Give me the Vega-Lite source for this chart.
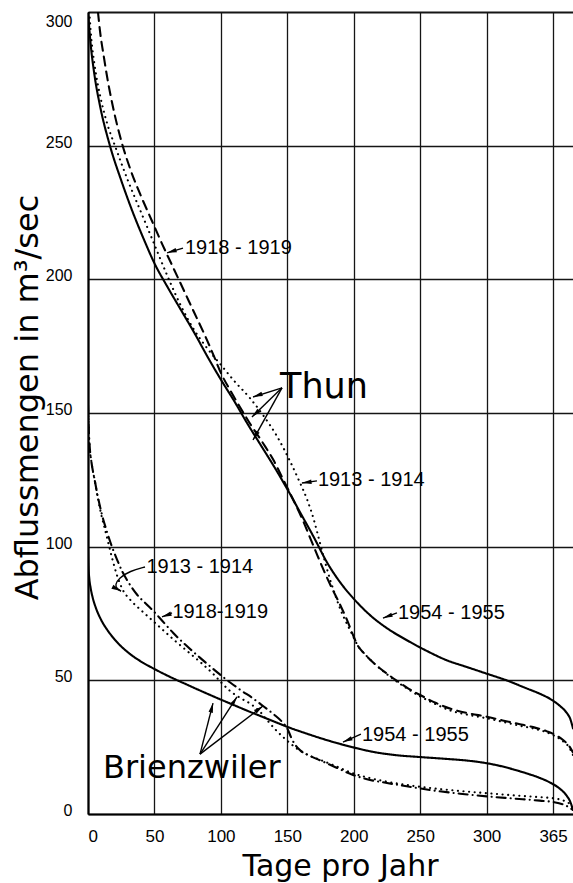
{
  "$schema": "https://vega.github.io/schema/vega-lite/v6.json",
  "width": 485,
  "height": 802,
  "autosize": {"type": "none"},
  "padding": {"left": 88, "top": 12, "right": 0, "bottom": 69},
  "background": "white",
  "config": {"view": {"stroke": null}},
  "datasets": {
    "curves": [
      {"s":"Thun 1954-1955","day":0,"q":300},{"s":"Thun 1954-1955","day":2,"q":288},{"s":"Thun 1954-1955","day":5,"q":276},{"s":"Thun 1954-1955","day":9,"q":265},{"s":"Thun 1954-1955","day":16.5,"q":250},{"s":"Thun 1954-1955","day":25,"q":237},{"s":"Thun 1954-1955","day":33,"q":226},{"s":"Thun 1954-1955","day":42,"q":215},{"s":"Thun 1954-1955","day":50,"q":206},{"s":"Thun 1954-1955","day":60,"q":197},{"s":"Thun 1954-1955","day":70,"q":188.5},{"s":"Thun 1954-1955","day":80,"q":180},{"s":"Thun 1954-1955","day":90,"q":171},{"s":"Thun 1954-1955","day":100,"q":162.5},{"s":"Thun 1954-1955","day":110,"q":154.5},{"s":"Thun 1954-1955","day":120,"q":146},{"s":"Thun 1954-1955","day":130,"q":138},{"s":"Thun 1954-1955","day":140,"q":130},{"s":"Thun 1954-1955","day":150,"q":121.5},{"s":"Thun 1954-1955","day":160,"q":112.5},{"s":"Thun 1954-1955","day":170,"q":103.5},{"s":"Thun 1954-1955","day":180,"q":94},{"s":"Thun 1954-1955","day":190,"q":86.5},{"s":"Thun 1954-1955","day":200,"q":80.5},{"s":"Thun 1954-1955","day":212,"q":74.5},{"s":"Thun 1954-1955","day":225,"q":69.5},{"s":"Thun 1954-1955","day":240,"q":65},{"s":"Thun 1954-1955","day":255,"q":61},{"s":"Thun 1954-1955","day":270,"q":57.5},{"s":"Thun 1954-1955","day":285,"q":55},{"s":"Thun 1954-1955","day":300,"q":52.5},{"s":"Thun 1954-1955","day":315,"q":50},{"s":"Thun 1954-1955","day":330,"q":47},{"s":"Thun 1954-1955","day":340,"q":45},{"s":"Thun 1954-1955","day":348,"q":43},{"s":"Thun 1954-1955","day":355,"q":40.5},{"s":"Thun 1954-1955","day":360,"q":38},{"s":"Thun 1954-1955","day":363,"q":35.5},{"s":"Thun 1954-1955","day":365,"q":32},
      {"s":"Thun 1918-1919","day":7.5,"q":300},{"s":"Thun 1918-1919","day":9,"q":293},{"s":"Thun 1918-1919","day":12,"q":283},{"s":"Thun 1918-1919","day":15,"q":274},{"s":"Thun 1918-1919","day":19,"q":264},{"s":"Thun 1918-1919","day":25.5,"q":251},{"s":"Thun 1918-1919","day":32,"q":241},{"s":"Thun 1918-1919","day":40,"q":231},{"s":"Thun 1918-1919","day":48,"q":222},{"s":"Thun 1918-1919","day":56,"q":213},{"s":"Thun 1918-1919","day":64,"q":204.5},{"s":"Thun 1918-1919","day":72,"q":196},{"s":"Thun 1918-1919","day":80,"q":187.5},{"s":"Thun 1918-1919","day":88,"q":179},{"s":"Thun 1918-1919","day":95,"q":171},{"s":"Thun 1918-1919","day":100,"q":165},{"s":"Thun 1918-1919","day":107,"q":158.5},{"s":"Thun 1918-1919","day":114,"q":152.5},{"s":"Thun 1918-1919","day":122,"q":146},{"s":"Thun 1918-1919","day":132,"q":138.5},{"s":"Thun 1918-1919","day":140,"q":132},{"s":"Thun 1918-1919","day":147,"q":125},{"s":"Thun 1918-1919","day":155,"q":117},{"s":"Thun 1918-1919","day":162,"q":109.5},{"s":"Thun 1918-1919","day":167,"q":103.5},{"s":"Thun 1918-1919","day":172,"q":97.5},{"s":"Thun 1918-1919","day":178,"q":90.5},{"s":"Thun 1918-1919","day":184,"q":84},{"s":"Thun 1918-1919","day":190,"q":78},{"s":"Thun 1918-1919","day":195,"q":72.5},{"s":"Thun 1918-1919","day":199,"q":67.5},{"s":"Thun 1918-1919","day":203,"q":63},{"s":"Thun 1918-1919","day":208,"q":60},{"s":"Thun 1918-1919","day":215,"q":56.5},{"s":"Thun 1918-1919","day":225,"q":52.5},{"s":"Thun 1918-1919","day":232,"q":50},{"s":"Thun 1918-1919","day":240,"q":47.3},{"s":"Thun 1918-1919","day":250,"q":44.5},{"s":"Thun 1918-1919","day":262,"q":41.5},{"s":"Thun 1918-1919","day":274,"q":39.2},{"s":"Thun 1918-1919","day":287,"q":37.6},{"s":"Thun 1918-1919","day":300,"q":36.4},{"s":"Thun 1918-1919","day":312,"q":35},{"s":"Thun 1918-1919","day":325,"q":33.6},{"s":"Thun 1918-1919","day":335,"q":32.5},{"s":"Thun 1918-1919","day":345,"q":31},{"s":"Thun 1918-1919","day":352,"q":29.5},{"s":"Thun 1918-1919","day":358,"q":27.5},{"s":"Thun 1918-1919","day":362,"q":25.5},{"s":"Thun 1918-1919","day":365,"q":23},
      {"s":"Thun 1913-1914","day":1,"q":300},{"s":"Thun 1913-1914","day":2.5,"q":290},{"s":"Thun 1913-1914","day":5,"q":280},{"s":"Thun 1913-1914","day":9,"q":269},{"s":"Thun 1913-1914","day":14,"q":259},{"s":"Thun 1913-1914","day":21,"q":249},{"s":"Thun 1913-1914","day":30,"q":237},{"s":"Thun 1913-1914","day":40,"q":225},{"s":"Thun 1913-1914","day":50,"q":213},{"s":"Thun 1913-1914","day":60,"q":201},{"s":"Thun 1913-1914","day":70,"q":190},{"s":"Thun 1913-1914","day":80,"q":181},{"s":"Thun 1913-1914","day":90,"q":174},{"s":"Thun 1913-1914","day":100,"q":168},{"s":"Thun 1913-1914","day":110,"q":162},{"s":"Thun 1913-1914","day":122,"q":155.5},{"s":"Thun 1913-1914","day":132,"q":149},{"s":"Thun 1913-1914","day":142,"q":141.5},{"s":"Thun 1913-1914","day":152,"q":132},{"s":"Thun 1913-1914","day":159,"q":124.5},{"s":"Thun 1913-1914","day":165,"q":117.5},{"s":"Thun 1913-1914","day":170,"q":110},{"s":"Thun 1913-1914","day":174,"q":102.5},{"s":"Thun 1913-1914","day":178,"q":95},{"s":"Thun 1913-1914","day":182,"q":88},{"s":"Thun 1913-1914","day":186,"q":82},{"s":"Thun 1913-1914","day":190,"q":76.5},{"s":"Thun 1913-1914","day":195,"q":71},{"s":"Thun 1913-1914","day":199,"q":67},{"s":"Thun 1913-1914","day":203,"q":63},{"s":"Thun 1913-1914","day":208,"q":60},{"s":"Thun 1913-1914","day":215,"q":56.5},{"s":"Thun 1913-1914","day":225,"q":52.3},{"s":"Thun 1913-1914","day":240,"q":47},{"s":"Thun 1913-1914","day":250,"q":44},{"s":"Thun 1913-1914","day":262,"q":41},{"s":"Thun 1913-1914","day":274,"q":38.5},{"s":"Thun 1913-1914","day":287,"q":37},{"s":"Thun 1913-1914","day":300,"q":35.8},{"s":"Thun 1913-1914","day":312,"q":34.5},{"s":"Thun 1913-1914","day":325,"q":33},{"s":"Thun 1913-1914","day":335,"q":32},{"s":"Thun 1913-1914","day":350,"q":29.5},{"s":"Thun 1913-1914","day":358,"q":27},{"s":"Thun 1913-1914","day":362,"q":25},{"s":"Thun 1913-1914","day":365,"q":22},
      {"s":"Brienzwiler 1954-1955","day":0,"q":100},{"s":"Brienzwiler 1954-1955","day":0.3,"q":93},{"s":"Brienzwiler 1954-1955","day":1,"q":88},{"s":"Brienzwiler 1954-1955","day":2,"q":84.5},{"s":"Brienzwiler 1954-1955","day":3.5,"q":81},{"s":"Brienzwiler 1954-1955","day":6,"q":77},{"s":"Brienzwiler 1954-1955","day":10,"q":72.5},{"s":"Brienzwiler 1954-1955","day":15,"q":68.5},{"s":"Brienzwiler 1954-1955","day":20,"q":65.3},{"s":"Brienzwiler 1954-1955","day":30,"q":60.5},{"s":"Brienzwiler 1954-1955","day":39,"q":57.3},{"s":"Brienzwiler 1954-1955","day":49,"q":54.5},{"s":"Brienzwiler 1954-1955","day":60,"q":51.7},{"s":"Brienzwiler 1954-1955","day":74,"q":48.5},{"s":"Brienzwiler 1954-1955","day":87,"q":45.6},{"s":"Brienzwiler 1954-1955","day":99,"q":43},{"s":"Brienzwiler 1954-1955","day":110,"q":40.7},{"s":"Brienzwiler 1954-1955","day":120,"q":38.6},{"s":"Brienzwiler 1954-1955","day":130,"q":36.6},{"s":"Brienzwiler 1954-1955","day":140,"q":34.6},{"s":"Brienzwiler 1954-1955","day":150,"q":32.6},{"s":"Brienzwiler 1954-1955","day":165,"q":30},{"s":"Brienzwiler 1954-1955","day":180,"q":27.6},{"s":"Brienzwiler 1954-1955","day":199,"q":25},{"s":"Brienzwiler 1954-1955","day":215,"q":23.2},{"s":"Brienzwiler 1954-1955","day":232,"q":22},{"s":"Brienzwiler 1954-1955","day":250,"q":21.3},{"s":"Brienzwiler 1954-1955","day":270,"q":20.6},{"s":"Brienzwiler 1954-1955","day":285,"q":20},{"s":"Brienzwiler 1954-1955","day":300,"q":19},{"s":"Brienzwiler 1954-1955","day":310,"q":18},{"s":"Brienzwiler 1954-1955","day":320,"q":16.7},{"s":"Brienzwiler 1954-1955","day":330,"q":15.2},{"s":"Brienzwiler 1954-1955","day":340,"q":13.5},{"s":"Brienzwiler 1954-1955","day":348,"q":11.7},{"s":"Brienzwiler 1954-1955","day":355,"q":9.5},{"s":"Brienzwiler 1954-1955","day":360,"q":7},{"s":"Brienzwiler 1954-1955","day":363,"q":4.5},{"s":"Brienzwiler 1954-1955","day":365,"q":1.5},
      {"s":"Brienzwiler 1918-1919","day":0,"q":153},{"s":"Brienzwiler 1918-1919","day":0.5,"q":145},{"s":"Brienzwiler 1918-1919","day":1.2,"q":138},{"s":"Brienzwiler 1918-1919","day":2.5,"q":132},{"s":"Brienzwiler 1918-1919","day":5,"q":125},{"s":"Brienzwiler 1918-1919","day":7.5,"q":118.5},{"s":"Brienzwiler 1918-1919","day":10.5,"q":112},{"s":"Brienzwiler 1918-1919","day":14,"q":106},{"s":"Brienzwiler 1918-1919","day":18,"q":100},{"s":"Brienzwiler 1918-1919","day":22,"q":95},{"s":"Brienzwiler 1918-1919","day":26,"q":90.5},{"s":"Brienzwiler 1918-1919","day":30,"q":87},{"s":"Brienzwiler 1918-1919","day":37,"q":82},{"s":"Brienzwiler 1918-1919","day":44,"q":78.5},{"s":"Brienzwiler 1918-1919","day":50,"q":75.5},{"s":"Brienzwiler 1918-1919","day":56,"q":72.2},{"s":"Brienzwiler 1918-1919","day":64,"q":67.8},{"s":"Brienzwiler 1918-1919","day":74,"q":63},{"s":"Brienzwiler 1918-1919","day":84,"q":58.6},{"s":"Brienzwiler 1918-1919","day":92,"q":55.2},{"s":"Brienzwiler 1918-1919","day":99,"q":52.3},{"s":"Brienzwiler 1918-1919","day":107,"q":49.2},{"s":"Brienzwiler 1918-1919","day":115,"q":46.3},{"s":"Brienzwiler 1918-1919","day":124,"q":43.3},{"s":"Brienzwiler 1918-1919","day":132,"q":40.3},{"s":"Brienzwiler 1918-1919","day":140,"q":37.2},{"s":"Brienzwiler 1918-1919","day":146,"q":34.5},{"s":"Brienzwiler 1918-1919","day":150,"q":32},{"s":"Brienzwiler 1918-1919","day":153,"q":28.5},{"s":"Brienzwiler 1918-1919","day":156,"q":25.8},{"s":"Brienzwiler 1918-1919","day":160,"q":23.7},{"s":"Brienzwiler 1918-1919","day":166,"q":22},{"s":"Brienzwiler 1918-1919","day":175,"q":20},{"s":"Brienzwiler 1918-1919","day":185,"q":17.8},{"s":"Brienzwiler 1918-1919","day":199,"q":14.7},{"s":"Brienzwiler 1918-1919","day":210,"q":13},{"s":"Brienzwiler 1918-1919","day":225,"q":11.6},{"s":"Brienzwiler 1918-1919","day":242,"q":10.2},{"s":"Brienzwiler 1918-1919","day":260,"q":8.8},{"s":"Brienzwiler 1918-1919","day":280,"q":7.6},{"s":"Brienzwiler 1918-1919","day":300,"q":6.6},{"s":"Brienzwiler 1918-1919","day":320,"q":5.8},{"s":"Brienzwiler 1918-1919","day":340,"q":5},{"s":"Brienzwiler 1918-1919","day":350,"q":4.5},{"s":"Brienzwiler 1918-1919","day":358,"q":3.5},{"s":"Brienzwiler 1918-1919","day":362,"q":2.5},{"s":"Brienzwiler 1918-1919","day":365,"q":1.5},
      {"s":"Brienzwiler 1913-1914","day":0,"q":153},{"s":"Brienzwiler 1913-1914","day":0.4,"q":146},{"s":"Brienzwiler 1913-1914","day":1,"q":139},{"s":"Brienzwiler 1913-1914","day":2.5,"q":132},{"s":"Brienzwiler 1913-1914","day":5,"q":125},{"s":"Brienzwiler 1913-1914","day":7.5,"q":118},{"s":"Brienzwiler 1913-1914","day":10,"q":112},{"s":"Brienzwiler 1913-1914","day":14,"q":104},{"s":"Brienzwiler 1913-1914","day":18,"q":96},{"s":"Brienzwiler 1913-1914","day":22,"q":89},{"s":"Brienzwiler 1913-1914","day":26,"q":84},{"s":"Brienzwiler 1913-1914","day":32,"q":80},{"s":"Brienzwiler 1913-1914","day":40,"q":76.2},{"s":"Brienzwiler 1913-1914","day":48,"q":72.6},{"s":"Brienzwiler 1913-1914","day":56,"q":69},{"s":"Brienzwiler 1913-1914","day":65,"q":65},{"s":"Brienzwiler 1913-1914","day":75,"q":60.8},{"s":"Brienzwiler 1913-1914","day":85,"q":56.6},{"s":"Brienzwiler 1913-1914","day":95,"q":52},{"s":"Brienzwiler 1913-1914","day":101,"q":48.8},{"s":"Brienzwiler 1913-1914","day":107,"q":46},{"s":"Brienzwiler 1913-1914","day":115,"q":43.3},{"s":"Brienzwiler 1913-1914","day":122,"q":41.3},{"s":"Brienzwiler 1913-1914","day":129,"q":38.5},{"s":"Brienzwiler 1913-1914","day":135,"q":35},{"s":"Brienzwiler 1913-1914","day":141,"q":31.6},{"s":"Brienzwiler 1913-1914","day":147,"q":28.7},{"s":"Brienzwiler 1913-1914","day":152,"q":26.5},{"s":"Brienzwiler 1913-1914","day":158,"q":24.2},{"s":"Brienzwiler 1913-1914","day":165,"q":22.2},{"s":"Brienzwiler 1913-1914","day":175,"q":20.2},{"s":"Brienzwiler 1913-1914","day":185,"q":18.2},{"s":"Brienzwiler 1913-1914","day":199,"q":15.3},{"s":"Brienzwiler 1913-1914","day":210,"q":13.7},{"s":"Brienzwiler 1913-1914","day":225,"q":12.1},{"s":"Brienzwiler 1913-1914","day":242,"q":10.7},{"s":"Brienzwiler 1913-1914","day":260,"q":9.6},{"s":"Brienzwiler 1913-1914","day":280,"q":8.6},{"s":"Brienzwiler 1913-1914","day":300,"q":7.8},{"s":"Brienzwiler 1913-1914","day":320,"q":7},{"s":"Brienzwiler 1913-1914","day":340,"q":6.3},{"s":"Brienzwiler 1913-1914","day":350,"q":5.9},{"s":"Brienzwiler 1913-1914","day":358,"q":5},{"s":"Brienzwiler 1913-1914","day":362,"q":4},{"s":"Brienzwiler 1913-1914","day":365,"q":2}
    ],
    "arrows": [
      {"day":59.5,"q":209.9,"day2":71.5,"q2":211.7,"angle":253},
      {"day":124.2,"q":156.0,"day2":146.0,"q2":159.4,"angle":251},
      {"day":123.4,"q":148.5,"day2":146.0,"q2":159.4,"angle":226},
      {"day":124.2,"q":139.9,"day2":146.0,"q2":159.4,"angle":209},
      {"day":161.0,"q":123.8,"day2":172.3,"q2":124.6,"angle":262},
      {"day":222.0,"q":73.3,"day2":232.5,"q2":75.2,"angle":250},
      {"day":191.9,"q":26.9,"day2":205.4,"q2":29.9,"angle":246},
      {"day":55.7,"q":73.7,"day2":63.2,"q2":75.2,"angle":250},
      {"day":94.1,"q":41.5,"day2":84.3,"q2":22.4,"angle":14},
      {"day":112.1,"q":43.8,"day2":84.3,"q2":22.4,"angle":33},
      {"day":131.7,"q":40.4,"day2":84.3,"q2":22.4,"angle":53},
      {"day":24.8,"q":83.4,"day2":21.8,"q2":84.2,"angle":117}
    ],
    "curl": [
      {"i":0,"day":42.9,"q":92.4},
      {"i":1,"day":31.6,"q":90.9},
      {"i":2,"day":23.3,"q":88.3},
      {"i":3,"day":20.3,"q":85.7},
      {"i":4,"day":21.8,"q":84.2},
      {"i":5,"day":24.8,"q":83.4}
    ],
    "years": [
      {"label":"1918 - 1919","day":73,"q":211.7},
      {"label":"1913 - 1914","day":173,"q":124.9},
      {"label":"1954 - 1955","day":233.3,"q":75.2},
      {"label":"1954 - 1955","day":206.2,"q":29.6},
      {"label":"1913 - 1914","day":44,"q":92.4},
      {"label":"1918-1919","day":63.5,"q":75.6}
    ]
  },
  "encoding": {
    "x": {
      "field": "day", "type": "quantitative",
      "scale": {"domain": [0, 365], "nice": false, "zero": false},
      "axis": {
        "values": [0, 50, 100, 150, 200, 250, 300, 350],
        "labelExpr": "datum.value == 350 ? '365' : datum.label",
        "title": "Tage pro Jahr",
        "grid": true, "gridColor": "#151515", "gridWidth": 1.3,
        "domainColor": "#000", "domainWidth": 2.2,
        "ticks": false,
        "labelFont": "Liberation Sans", "labelFontSize": 17, "labelColor": "#000",
        "labelBaseline": "alphabetic", "labelPadding": 27,
        "labelAlign": {"condition": {"test": "datum.value == 0", "value": "left"}, "value": "center"},
        "labelOverlap": false, "labelBound": false, "labelFlush": false,
        "titleFont": "DejaVu Sans", "titleFontSize": 30, "titleFontWeight": "normal", "titleColor": "#000",
        "titleX": 252, "titleY": 61, "titleBaseline": "alphabetic", "titleAlign": "center"
      }
    },
    "y": {
      "field": "q", "type": "quantitative",
      "scale": {"domain": [0, 300], "nice": false},
      "axis": {
        "values": [0, 50, 100, 150, 200, 250, 300],
        "title": "Abflussmengen in m³/sec",
        "grid": true, "gridColor": "#151515",
        "gridWidth": {"condition": {"test": "datum.value == 300", "value": 2.2}, "value": 1.3},
        "domainColor": "#000", "domainWidth": 2.2,
        "ticks": false,
        "labelFont": "Liberation Sans", "labelFontSize": 16, "labelColor": "#000",
        "labelPadding": 16, "labelOffset": 1.5,
        "labelBaseline": {"condition": {"test": "datum.value == 300", "value": "top"}, "value": "alphabetic"},
        "labelOverlap": false, "labelBound": false, "labelFlush": false,
        "titleFont": "DejaVu Sans", "titleFontSize": 32, "titleFontWeight": "normal", "titleColor": "#000",
        "titleAngle": 270, "titleX": -51, "titleY": 385, "titleBaseline": "alphabetic", "titleAlign": "center"
      }
    }
  },
  "layer": [
    {
      "data": {"name": "curves"},
      "mark": {"type": "line", "interpolate": "monotone", "color": "black", "strokeWidth": 2.1, "strokeCap": "round", "clip": true},
      "encoding": {
        "strokeDash": {
          "field": "s", "type": "nominal", "legend": null,
          "scale": {
            "domain": ["Thun 1954-1955", "Thun 1918-1919", "Thun 1913-1914", "Brienzwiler 1954-1955", "Brienzwiler 1918-1919", "Brienzwiler 1913-1914"],
            "range": [[1, 0], [9, 6], [0.1, 5.5], [1, 0], [9, 5, 0.1, 5], [0.1, 5.5]]
          }
        }
      }
    },
    {
      "data": {"name": "arrows"},
      "mark": {"type": "rule", "color": "black", "strokeWidth": 1.4},
      "encoding": {
        "x2": {"field": "day2"},
        "y2": {"field": "q2"}
      }
    },
    {
      "data": {"name": "curl"},
      "mark": {"type": "line", "interpolate": "basis", "color": "black", "strokeWidth": 1.4},
      "encoding": {"order": {"field": "i", "type": "quantitative"}}
    },
    {
      "data": {"name": "arrows"},
      "mark": {"type": "point", "shape": "M0,0L0.6,2.6L-0.6,2.6Z", "filled": true, "color": "black", "opacity": 1, "size": 55},
      "encoding": {"angle": {"field": "angle", "type": "quantitative", "scale": null}}
    },
    {
      "data": {"name": "years"},
      "mark": {"type": "text", "align": "left", "baseline": "middle", "font": "Liberation Sans", "fontSize": 20, "color": "black"},
      "encoding": {"text": {"field": "label"}}
    },
    {
      "data": {"values": [{"label": "Thun", "day": 144.5, "q": 159.7}]},
      "mark": {"type": "text", "align": "left", "baseline": "middle", "font": "DejaVu Sans", "fontSize": 35, "color": "black"},
      "encoding": {"text": {"field": "label"}}
    },
    {
      "data": {"values": [{"label": "Brienzwiler", "day": 11.3, "q": 17.2}]},
      "mark": {"type": "text", "align": "left", "baseline": "middle", "font": "DejaVu Sans", "fontSize": 32, "color": "black"},
      "encoding": {"text": {"field": "label"}}
    }
  ]
}
